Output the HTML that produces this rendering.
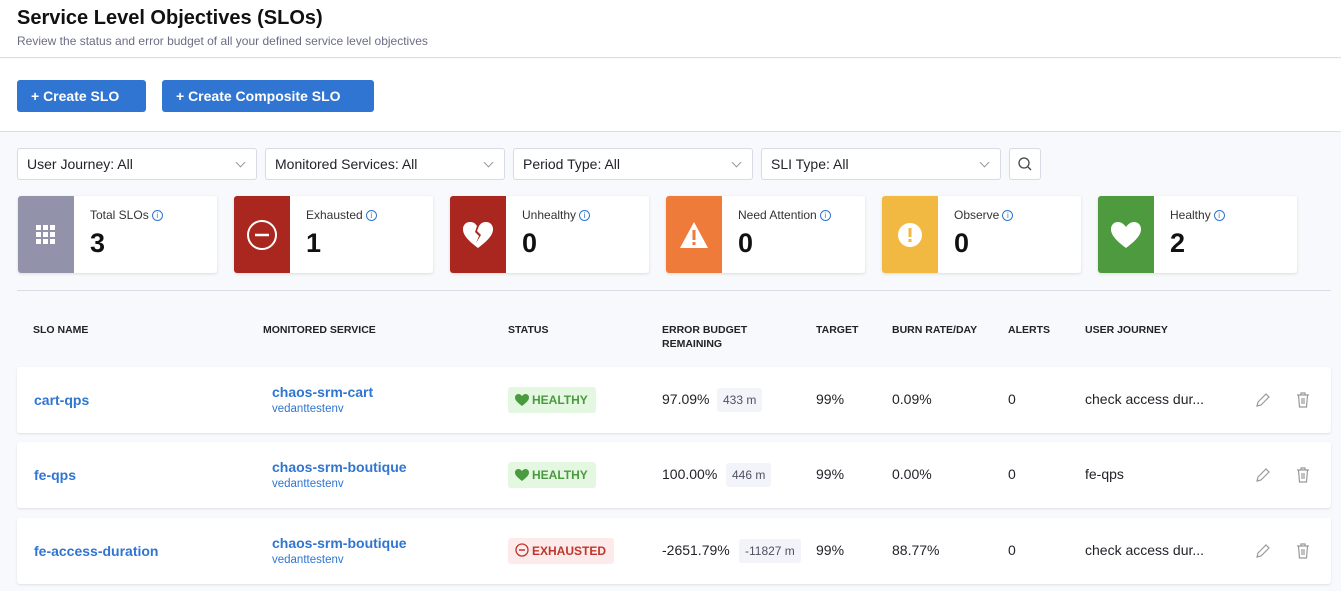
<!DOCTYPE html>
<html><head><style>
*{box-sizing:border-box;margin:0;padding:0}
body{width:1341px;height:591px;background:#f8f9fc;font-family:"Liberation Sans",sans-serif;position:relative;overflow:hidden;color:#22222a}
.a{position:absolute}
.btn{position:absolute;top:80px;height:32px;background:#3075d1;color:#fff;font-weight:bold;font-size:14px;border-radius:3px;line-height:32px;padding-left:14px}
.dd{position:absolute;top:148px;width:240px;height:32px;background:#fff;border:1px solid #d9dae5;border-radius:3px;font-size:14px;line-height:30px;padding-left:9px;color:#22222a}
.dd:after{content:"";position:absolute;right:12px;top:10px;width:6px;height:6px;border-right:1.3px solid #999;border-bottom:1.3px solid #999;transform:rotate(45deg)}
.card{position:absolute;top:196px;width:199px;height:77px;background:#fff;border-radius:3px;box-shadow:0 1px 3px rgba(0,0,0,.12);overflow:hidden}
.card .ic{position:absolute;left:0;top:0;width:56px;height:77px;display:flex;align-items:center;justify-content:center;color:#fff}
.card .t{position:absolute;left:72px;top:12px;font-size:12px;color:#333}
.card .t i{display:inline-block;width:11px;height:11px;border:1px solid #3075d1;border-radius:50%;font-size:8px;color:#3075d1;text-align:center;line-height:9px;font-style:normal;margin-left:3px;vertical-align:1px}
.card .n{position:absolute;left:72px;top:32px;font-size:27px;font-weight:bold;color:#111}
.th{position:absolute;top:323px;font-size:10.5px;font-weight:bold;color:#22222a;line-height:14px}
.row{position:absolute;left:17px;width:1314px;height:66px;background:#fff;border-radius:3px;box-shadow:0 1px 2px rgba(0,0,0,.1)}
.row div{position:absolute;font-size:14px}
.nm{left:17px;top:25px;color:#3075d1;font-weight:bold}
.sv{left:255px;top:17px;color:#3075d1;font-weight:bold}
.env{left:255px;top:36px;font-size:11.5px!important;color:#3075d1}
.st{left:491px;top:20px;height:26px;border-radius:3px;font-size:12px!important;font-weight:bold;line-height:26px;padding:0 8px 0 7px}
.st svg{vertical-align:-2px;margin-right:3px}
.h{background:#e4f7e1;color:#4a9a3f}
.x{background:#fcebea;color:#c0352b}
.eb{left:645px;top:24px}
.pill{top:21px;height:24px;background:#f3f3fa;border-radius:3px;font-size:12px!important;color:#4f5162;line-height:24px;padding:0 6px}
.tg{left:799px;top:24px}.br{left:875px;top:24px}.al{left:991px;top:24px}.uj{left:1068px;top:24px}
.ed{left:1237px;top:24px}.del{left:1278px;top:24px}
</style></head><body>
<div class="a" style="left:0;top:0;width:1341px;height:58px;background:#fff;border-bottom:1px solid #dcdde6"></div>
<div class="a" style="left:17px;top:7px;font-size:20px;font-weight:bold;color:#111">Service Level Objectives (SLOs)</div>
<div class="a" style="left:17px;top:34px;font-size:12px;color:#6b6d85">Review the status and error budget of all your defined service level objectives</div>
<div class="a" style="left:0;top:59px;width:1341px;height:73px;background:#fff;border-bottom:1px solid #dcdde6"></div>
<div class="btn" style="left:17px;width:129px">+ Create SLO</div>
<div class="btn" style="left:162px;width:212px">+ Create Composite SLO</div>
<div class="dd" style="left:17px">User Journey: All</div>
<div class="dd" style="left:265px">Monitored Services: All</div>
<div class="dd" style="left:513px">Period Type: All</div>
<div class="dd" style="left:761px">SLI Type: All</div>
<div class="a" style="left:1009px;top:148px;width:32px;height:32px;background:#fff;border:1px solid #d9dae5;border-radius:3px"><svg width="30" height="30"><circle cx="14" cy="14" r="5" fill="none" stroke="#444" stroke-width="1.3"/><line x1="18" y1="18" x2="21" y2="21" stroke="#444" stroke-width="1.3"/></svg></div>

<div class="card" style="left:18px"><div class="ic" style="background:#9293ab"><svg width="20" height="20" fill="#fff"><rect x="0" y="0" width="5" height="5"/><rect x="7" y="0" width="5" height="5"/><rect x="14" y="0" width="5" height="5"/><rect x="0" y="7" width="5" height="5"/><rect x="7" y="7" width="5" height="5"/><rect x="14" y="7" width="5" height="5"/><rect x="0" y="14" width="5" height="5"/><rect x="7" y="14" width="5" height="5"/><rect x="14" y="14" width="5" height="5"/></svg></div><div class="t">Total SLOs<i>i</i></div><div class="n">3</div></div>
<div class="card" style="left:234px"><div class="ic" style="background:#a9271f"><svg width="32" height="32"><circle cx="16" cy="16" r="14" fill="none" stroke="#fff" stroke-width="2"/><line x1="9" y1="16" x2="23" y2="16" stroke="#fff" stroke-width="2.5"/></svg></div><div class="t">Exhausted<i>i</i></div><div class="n">1</div></div>
<div class="card" style="left:450px"><div class="ic" style="background:#a9271f"><svg width="32" height="28"><path d="M16 27C4 18 1 13 1 8 1 4 4 1 8 1 11 1 13 2 15 5L13 11 17 15 14 22 19 14 15 10 17 5C19 2 21 1 24 1 28 1 31 4 31 8 31 13 28 18 16 27Z" fill="#fff"/></svg></div><div class="t">Unhealthy<i>i</i></div><div class="n">0</div></div>
<div class="card" style="left:666px"><div class="ic" style="background:#ef7b3a"><svg width="30" height="28"><path d="M15 1L29 27H1Z" fill="#fff"/><rect x="13.5" y="9" width="3" height="10" fill="#ef7b3a"/><rect x="13.5" y="21" width="3" height="3" fill="#ef7b3a"/></svg></div><div class="t">Need Attention<i>i</i></div><div class="n">0</div></div>
<div class="card" style="left:882px"><div class="ic" style="background:#f1b941"><svg width="26" height="26"><circle cx="13" cy="13" r="12" fill="#fff"/><rect x="11.5" y="6" width="3" height="9" fill="#f1b941"/><rect x="11.5" y="17" width="3" height="3" fill="#f1b941"/></svg></div><div class="t">Observe<i>i</i></div><div class="n">0</div></div>
<div class="card" style="left:1098px"><div class="ic" style="background:#4d9a3f"><svg width="32" height="28"><path d="M16 27C4 18 1 13 1 8 1 4 4 1 8 1 11 1 14 3 16 6 18 3 21 1 24 1 28 1 31 4 31 8 31 13 28 18 16 27Z" fill="#fff"/></svg></div><div class="t">Healthy<i>i</i></div><div class="n">2</div></div>

<div class="a" style="left:17px;top:290px;width:1314px;height:1px;background:#dcdde6"></div>
<div class="th" style="left:33px">SLO NAME</div>
<div class="th" style="left:263px">MONITORED SERVICE</div>
<div class="th" style="left:508px">STATUS</div>
<div class="th" style="left:662px">ERROR BUDGET<br>REMAINING</div>
<div class="th" style="left:816px">TARGET</div>
<div class="th" style="left:892px">BURN RATE/DAY</div>
<div class="th" style="left:1008px">ALERTS</div>
<div class="th" style="left:1085px">USER JOURNEY</div>

<div class="row" style="top:367px"><div class="nm">cart-qps</div><div class="sv">chaos-srm-cart</div><div class="env">vedanttestenv</div><div class="st h"><svg width="14" height="12"><path d="M7 12C2 8 0 6 0 3.5 0 1.5 1.5 0 3.5 0 5 0 6 1 7 2 8 1 9 0 10.5 0 12.5 0 14 1.5 14 3.5 14 6 12 8 7 12Z" fill="#4a9a3f"/></svg>HEALTHY</div><div class="eb">97.09%</div><div class="pill" style="left:700px">433 m</div><div class="tg">99%</div><div class="br">0.09%</div><div class="al">0</div><div class="uj">check access dur...</div><div class="ed"><svg width="18" height="18"><path d="M3 15L4 11 12 3 15 6 7 14Z" fill="none" stroke="#999" stroke-width="1.2"/></svg></div><div class="del"><svg width="16" height="18"><path d="M2 4H14M6 4V2H10V4M3.5 4L4.5 16H11.5L12.5 4M7 7V13M9 7V13" fill="none" stroke="#999" stroke-width="1.2"/></svg></div></div>
<div class="row" style="top:442px"><div class="nm">fe-qps</div><div class="sv">chaos-srm-boutique</div><div class="env">vedanttestenv</div><div class="st h"><svg width="14" height="12"><path d="M7 12C2 8 0 6 0 3.5 0 1.5 1.5 0 3.5 0 5 0 6 1 7 2 8 1 9 0 10.5 0 12.5 0 14 1.5 14 3.5 14 6 12 8 7 12Z" fill="#4a9a3f"/></svg>HEALTHY</div><div class="eb">100.00%</div><div class="pill" style="left:709px">446 m</div><div class="tg">99%</div><div class="br">0.00%</div><div class="al">0</div><div class="uj">fe-qps</div><div class="ed"><svg width="18" height="18"><path d="M3 15L4 11 12 3 15 6 7 14Z" fill="none" stroke="#999" stroke-width="1.2"/></svg></div><div class="del"><svg width="16" height="18"><path d="M2 4H14M6 4V2H10V4M3.5 4L4.5 16H11.5L12.5 4M7 7V13M9 7V13" fill="none" stroke="#999" stroke-width="1.2"/></svg></div></div>
<div class="row" style="top:518px"><div class="nm">fe-access-duration</div><div class="sv">chaos-srm-boutique</div><div class="env">vedanttestenv</div><div class="st x"><svg width="14" height="14"><circle cx="7" cy="7" r="6" fill="none" stroke="#c0352b" stroke-width="1.3"/><line x1="4" y1="7" x2="10" y2="7" stroke="#c0352b" stroke-width="1.5"/></svg>EXHAUSTED</div><div class="eb">-2651.79%</div><div class="pill" style="left:722px">-11827 m</div><div class="tg">99%</div><div class="br">88.77%</div><div class="al">0</div><div class="uj">check access dur...</div><div class="ed"><svg width="18" height="18"><path d="M3 15L4 11 12 3 15 6 7 14Z" fill="none" stroke="#999" stroke-width="1.2"/></svg></div><div class="del"><svg width="16" height="18"><path d="M2 4H14M6 4V2H10V4M3.5 4L4.5 16H11.5L12.5 4M7 7V13M9 7V13" fill="none" stroke="#999" stroke-width="1.2"/></svg></div></div>
</body></html>
